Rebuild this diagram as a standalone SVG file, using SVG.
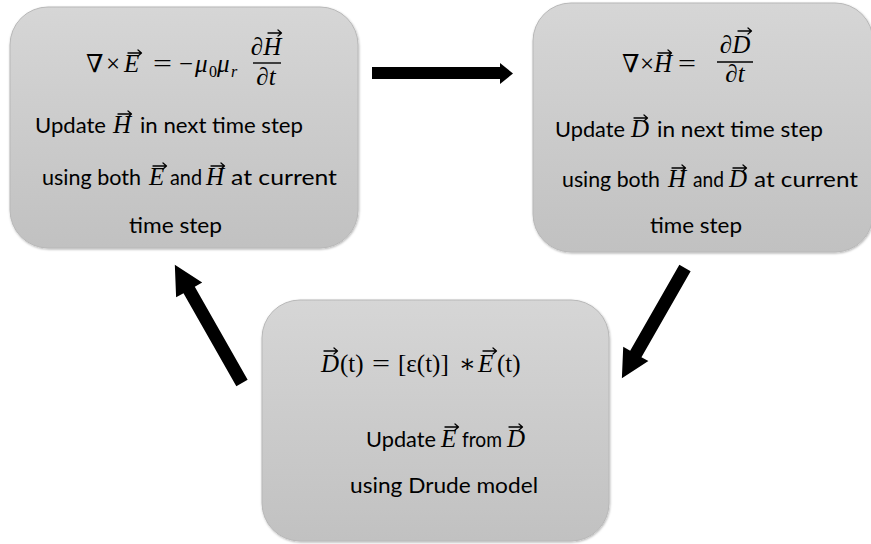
<svg xmlns="http://www.w3.org/2000/svg" width="871" height="544" viewBox="0 0 871 544">
  <defs>
    <linearGradient id="boxFill" x1="0" y1="0" x2="0" y2="1">
      <stop offset="0" stop-color="#d6d6d6"/>
      <stop offset="1" stop-color="#c1c1c1"/>
    </linearGradient>
    <filter id="edge" x="-5%" y="-5%" width="110%" height="110%">
      <feDropShadow dx="0.6" dy="1" stdDeviation="0.8" flood-color="#000" flood-opacity="0.3"/>
    </filter>
    <!-- vector accent placed above italic letters -->
    <path id="vec" d="M0,0 H13.5 M10,-3 L13.5,0 L10,3"/>
  </defs>
  <style>
    .box{fill:url(#boxFill);stroke:#b8b8b8;stroke-width:1;filter:url(#edge)}
    text{fill:#000}
    .t{font-family:Lato,"Open Sans",sans-serif;font-size:22px}
    .m{font-family:"Liberation Serif","DejaVu Serif",serif;font-size:25px}
    .i{font-style:italic}
    .s{font-size:16px}
    .bar{stroke:#000;stroke-width:1.4}
    .acc use{fill:none;stroke:#000;stroke-width:1.3;stroke-linecap:round;stroke-linejoin:round}
    .arrow{fill:#000}
  </style>

  <!-- Faraday step: update H -->
  <g id="node-faraday">
    <rect class="box" x="10" y="7" width="348" height="241" rx="38" ry="38"/>
    <text class="m" x="86" y="72">∇</text>
    <text class="m" x="106" y="72">×</text>
    <text class="m i" x="124" y="72">E</text>
    <text class="m" x="153" y="72" textLength="19" lengthAdjust="spacingAndGlyphs">=</text>
    <text class="m" x="179" y="72" textLength="14" lengthAdjust="spacingAndGlyphs">−</text>
    <text class="m i" x="195" y="72">μ</text>
    <text class="m s" x="209" y="77">0</text>
    <text class="m i" x="217" y="72">μ</text>
    <text class="m i s" x="231" y="77">r</text>
    <text class="m i" x="266" y="55" text-anchor="middle">∂H</text>
    <line class="bar" x1="253" y1="63" x2="281" y2="63"/>
    <text class="m i" x="266" y="85" text-anchor="middle">∂t</text>
    <text y="133"><tspan class="t" x="35" textLength="71" lengthAdjust="spacingAndGlyphs">Update</tspan><tspan class="m i" x="113">H</tspan><tspan class="t" x="140" textLength="163" lengthAdjust="spacingAndGlyphs">in next time step</tspan></text>
    <text y="185"><tspan class="t" x="42" textLength="99" lengthAdjust="spacingAndGlyphs">using both</tspan><tspan class="m i" x="149">E</tspan><tspan class="t" x="170" textLength="32" lengthAdjust="spacingAndGlyphs">and</tspan><tspan class="m i" x="206">H</tspan><tspan class="t" x="231" textLength="106" lengthAdjust="spacingAndGlyphs">at current</tspan></text>
    <text class="t" x="129" y="233" textLength="93" lengthAdjust="spacingAndGlyphs">time step</text>
    <g class="acc">
      <use href="#vec" x="128" y="53"/>
      <use href="#vec" x="268" y="33"/>
      <use href="#vec" x="118" y="114"/>
      <use href="#vec" x="153" y="166"/>
      <use href="#vec" x="211" y="166"/>
    </g>
  </g>

  <!-- Ampere step: update D -->
  <g id="node-ampere">
    <rect class="box" x="533" y="3" width="340" height="249" rx="38" ry="38"/>
    <text class="m" x="622" y="72">∇</text>
    <text class="m" x="640" y="72">×</text>
    <text class="m i" x="654" y="72">H</text>
    <text class="m" x="678" y="72" textLength="18" lengthAdjust="spacingAndGlyphs">=</text>
    <text class="m i" x="735" y="53" text-anchor="middle">∂D</text>
    <line class="bar" x1="717" y1="62" x2="753" y2="62"/>
    <text class="m i" x="735" y="82" text-anchor="middle">∂t</text>
    <text y="137"><tspan class="t" x="555" textLength="70" lengthAdjust="spacingAndGlyphs">Update</tspan><tspan class="m i" x="631">D</tspan><tspan class="t" x="657" textLength="166" lengthAdjust="spacingAndGlyphs">in next time step</tspan></text>
    <text y="187"><tspan class="t" x="562" textLength="98" lengthAdjust="spacingAndGlyphs">using both</tspan><tspan class="m i" x="668">H</tspan><tspan class="t" x="693" textLength="31" lengthAdjust="spacingAndGlyphs">and</tspan><tspan class="m i" x="729">D</tspan><tspan class="t" x="754" textLength="104" lengthAdjust="spacingAndGlyphs">at current</tspan></text>
    <text class="t" x="650" y="233" textLength="92" lengthAdjust="spacingAndGlyphs">time step</text>
    <g class="acc">
      <use href="#vec" x="658" y="53"/>
      <use href="#vec" x="738" y="31"/>
      <use href="#vec" x="634" y="118"/>
      <use href="#vec" x="672" y="168"/>
      <use href="#vec" x="733" y="168"/>
    </g>
  </g>

  <!-- Constitutive step: update E via Drude model -->
  <g id="node-drude">
    <rect class="box" x="262" y="300" width="347" height="241" rx="38" ry="38"/>
    <text class="m i" x="321" y="372">D</text>
    <text class="m" x="340" y="372">(t)</text>
    <text class="m" x="372" y="372" textLength="18" lengthAdjust="spacingAndGlyphs">=</text>
    <text class="m" x="398" y="372">[ε(t)]</text>
    <text class="m" x="459" y="372">∗</text>
    <text class="m i" x="478" y="372">E</text>
    <text class="m" x="497" y="372">(t)</text>
    <text y="447"><tspan class="t" x="366" textLength="70" lengthAdjust="spacingAndGlyphs">Update</tspan><tspan class="m i" x="441">E</tspan><tspan class="t" x="462" textLength="40" lengthAdjust="spacingAndGlyphs">from</tspan><tspan class="m i" x="507">D</tspan></text>
    <text class="t" x="350" y="493" textLength="188" lengthAdjust="spacingAndGlyphs">using Drude model</text>
    <g class="acc">
      <use href="#vec" x="324" y="351"/>
      <use href="#vec" x="483" y="351"/>
      <use href="#vec" x="445" y="427"/>
      <use href="#vec" x="509" y="427"/>
    </g>
  </g>

  <!-- Block arrows between the steps -->
  <g id="connectors">
    <polygon class="arrow" points="372,67 500,67 500,63 513,73.5 500,84 500,79 372,79"/>
    <polygon class="arrow" transform="translate(685,268) rotate(119.8)" points="0,-6.5 99,-6.5 99,-14.5 127,0 99,14.5 99,6.5 0,6.5"/>
    <polygon class="arrow" transform="translate(242,383) rotate(-119.6)" points="0,-6.5 107,-6.5 107,-15 136,0 107,15 107,6.5 0,6.5"/>
  </g>
</svg>
